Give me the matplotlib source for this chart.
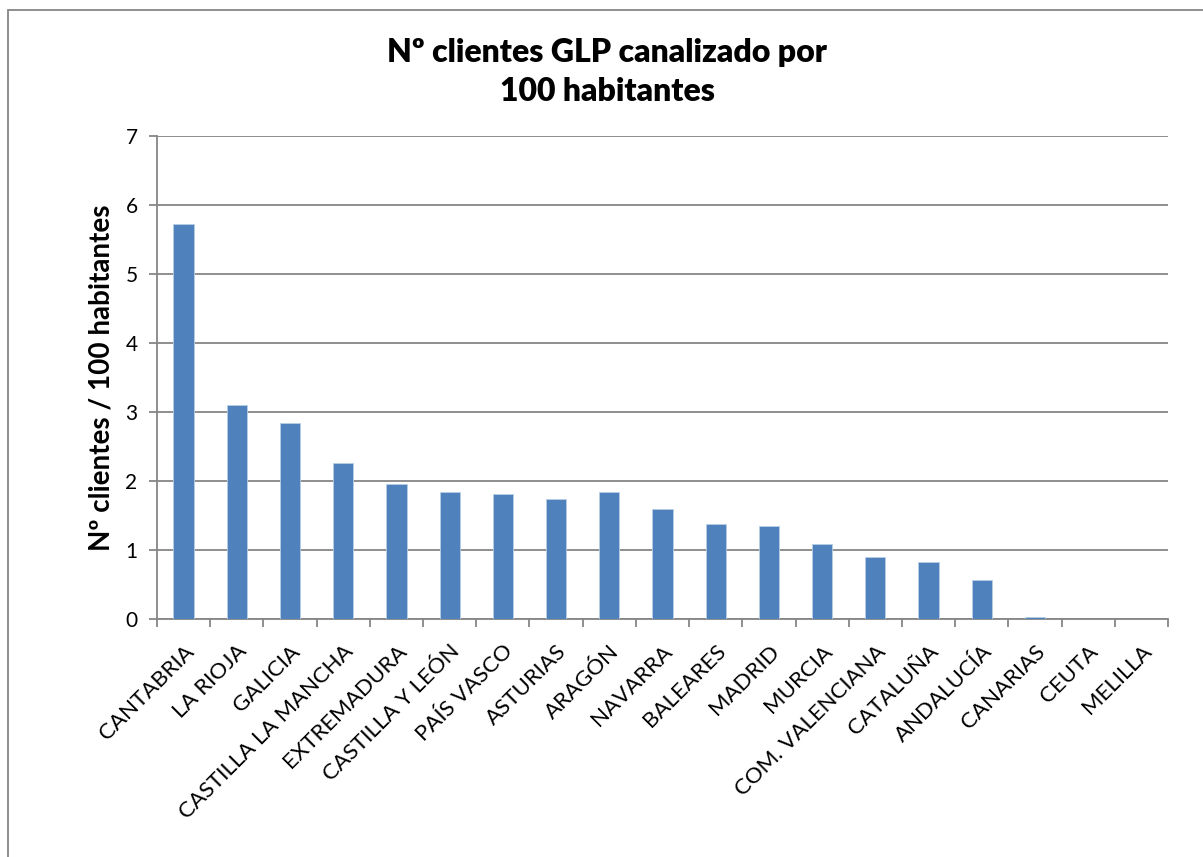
import matplotlib.pyplot as plt
from matplotlib.patches import Rectangle

regiones = ['CANTABRIA', 'LA RIOJA', 'GALICIA', 'CASTILLA LA MANCHA', 'EXTREMADURA',
            'CASTILLA Y LEÓN', 'PAÍS VASCO', 'ASTURIAS', 'ARAGÓN', 'NAVARRA',
            'BALEARES', 'MADRID', 'MURCIA', 'COM. VALENCIANA', 'CATALUÑA',
            'ANDALUCÍA', 'CANARIAS', 'CEUTA', 'MELILLA']
clientes = [5.72, 3.10, 2.84, 2.26, 1.95, 1.84, 1.81, 1.74, 1.84, 1.59,
            1.38, 1.35, 1.09, 0.90, 0.82, 0.56, 0.03, 0.0, 0.0]
y_ticks = [0, 1, 2, 3, 4, 5, 6, 7]

titulo = 'Nº clientes GLP canalizado por\n100 habitantes'
eje_y = 'Nº clientes / 100 habitantes'

plt.rcParams['font.family'] = ['Lato', 'DejaVu Sans']
gris = '#868686'

W, H = 1203, 857
fig = plt.figure(figsize=(W / 100, H / 100), dpi=100)
ax = fig.add_axes([157 / W, 1 - 619 / H, (1168 - 157) / W, (619 - 136) / H])

x = list(range(len(regiones)))
ax.bar(x, clientes, width=0.38, color='#4F81BD', edgecolor='#B9CDE5', linewidth=0.6, zorder=3)

ax.set_xlim(-0.5, len(regiones) - 0.5)
ax.set_ylim(0, 7)
ax.set_yticks(y_ticks)
ax.set_yticklabels([str(t) for t in y_ticks], fontsize=15)
ax.yaxis.grid(True, color=gris, linewidth=1.3, zorder=0)
ax.set_axisbelow(True)

# ticks en los limites de categoria, etiquetas en el centro
ax.set_xticks([i - 0.5 for i in range(len(regiones) + 1)])
ax.set_xticklabels([])
ax.set_xticks(x, minor=True)
ax.set_xticklabels(regiones, minor=True, rotation=45, ha='right', va='top',
                   rotation_mode='anchor', fontsize=16)
ax.tick_params(axis='x', which='minor', length=0, pad=16)
ax.tick_params(axis='x', which='major', length=6, color=gris, width=1.3)
ax.tick_params(axis='y', length=6, color=gris, width=1.3, pad=8)

for s in ['top', 'right']:
    ax.spines[s].set_visible(False)
for s in ['left', 'bottom']:
    ax.spines[s].set_color(gris)
    ax.spines[s].set_linewidth(1.3)

ax.set_ylabel(eje_y, fontsize=20, fontweight='bold', labelpad=8)
fig.text(607 / W, 1 - 72 / H, titulo, ha='center', va='center', fontsize=23,
         fontweight='heavy', linespacing=1.45)

fig.patches.append(Rectangle((8 / W, -0.1), 1.1, 1 - 10 / H + 0.1,
                             transform=fig.transFigure, fill=False,
                             edgecolor=gris, linewidth=1.3))

fig.savefig('out.png', dpi=100)
